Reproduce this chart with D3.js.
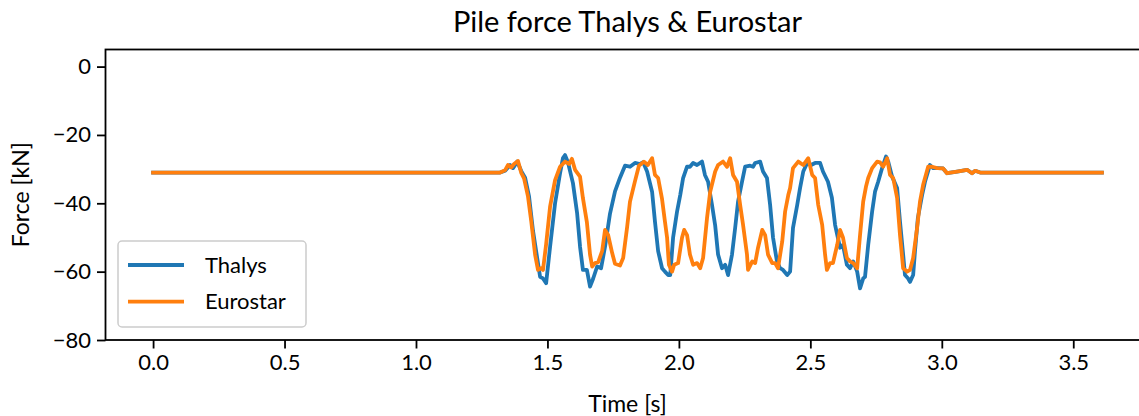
<!DOCTYPE html>
<html>
<head>
<meta charset="utf-8">
<script src="https://cdn.jsdelivr.net/npm/d3@7"></script>
<style>
  body { margin: 0; background: #fff; }
  text { font-family: Lato, "Open Sans", sans-serif; fill: #000; }
</style>
</head>
<body>
<div id="chart"></div>
<script>
// Data: time [s] and force [kN]
var thalysT = [0, 1.282, 1.320, 1.339, 1.358, 1.369, 1.385, 1.400, 1.415, 1.430, 1.445, 1.461, 1.472, 1.483, 1.495,
  1.510, 1.529, 1.548, 1.559, 1.567, 1.578, 1.597, 1.613, 1.624, 1.635, 1.650, 1.662, 1.674, 1.689, 1.704,
  1.719, 1.738, 1.757, 1.776, 1.795, 1.814, 1.833, 1.852, 1.864, 1.879, 1.898, 1.909, 1.921, 1.936, 1.947,
  1.959, 1.967, 1.978, 1.993, 2.005, 2.016, 2.031, 2.042, 2.054, 2.069, 2.088, 2.099, 2.111, 2.126, 2.138,
  2.149, 2.164, 2.176, 2.187, 2.202, 2.214, 2.225, 2.240, 2.252, 2.271, 2.282, 2.290, 2.309, 2.320, 2.335,
  2.347, 2.358, 2.373, 2.385, 2.396, 2.412, 2.423, 2.434, 2.450, 2.461, 2.473, 2.488, 2.503, 2.518, 2.537,
  2.548, 2.567, 2.582, 2.594, 2.613, 2.624, 2.639, 2.651, 2.663, 2.678, 2.689, 2.701, 2.708, 2.720, 2.735,
  2.746, 2.758, 2.773, 2.788, 2.796, 2.811, 2.830, 2.841, 2.853, 2.860, 2.872, 2.879, 2.891, 2.898, 2.909,
  2.925, 2.936, 2.955, 2.967, 2.986, 3.005, 3.020, 3.058, 3.096, 3.115, 3.127, 3.146, 3.172, 3.609];
var thalysF = [-31, -31, -31, -30.5, -28.8, -29.7, -27.8, -30.5, -32.5, -38, -48, -56, -61.5, -62, -63.4,
  -52.7, -40, -31.2, -26.8, -25.9, -28, -34.1, -43, -52.7, -59.5, -59.5, -64.4, -62, -58.5, -59,
  -52.7, -43, -36.5, -32.5, -29, -29.3, -28.2, -28.5, -28, -30.7, -36.6, -45.4, -54, -59, -60,
  -61, -61, -50, -42.4, -37.6, -32.6, -29.3, -29.3, -28.2, -28.8, -27.8, -31.7, -33.7, -40.5, -46.5,
  -55, -59, -58, -61, -55, -47.2, -39.5, -33.7, -29.3, -29, -29.3, -28.2, -27.8, -30.7, -32.6,
  -40.5, -50, -57, -59, -59.5, -61, -60, -47.2, -40.5, -35.5, -30.7, -28.2, -28.8, -28.2, -28.2,
  -30.7, -33.7, -38.4, -46.3, -53, -52.2, -58, -59, -57, -60, -64.9, -62, -61.5, -52.2, -42.4,
  -36.6, -33.7, -29.7, -26.3, -27.8, -32.2, -35.5, -45.4, -55, -61, -62, -63, -61, -54, -44.3,
  -37.6, -33.7, -28.8, -29.7, -29.7, -29.8, -31.2, -30.7, -30.2, -31.2, -30.5, -31, -31, -31];

var eurostarT = [0, 1.282, 1.320, 1.339, 1.350, 1.362, 1.373, 1.388, 1.400, 1.411, 1.426, 1.438, 1.453, 1.464, 1.476,
  1.483, 1.495, 1.510, 1.529, 1.548, 1.567, 1.582, 1.593, 1.605, 1.624, 1.635, 1.650, 1.662, 1.670, 1.681,
  1.693, 1.708, 1.719, 1.731, 1.746, 1.757, 1.776, 1.788, 1.803, 1.814, 1.833, 1.848, 1.867, 1.882, 1.898,
  1.909, 1.921, 1.936, 1.947, 1.955, 1.962, 1.974, 1.982, 1.997, 2.012, 2.020, 2.031, 2.042, 2.054, 2.069,
  2.081, 2.092, 2.107, 2.119, 2.138, 2.149, 2.168, 2.183, 2.195, 2.206, 2.221, 2.233, 2.244, 2.259, 2.263,
  2.279, 2.290, 2.301, 2.317, 2.328, 2.339, 2.355, 2.366, 2.377, 2.393, 2.404, 2.416, 2.423, 2.434, 2.454,
  2.473, 2.492, 2.507, 2.518, 2.530, 2.545, 2.556, 2.563, 2.575, 2.586, 2.602, 2.613, 2.624, 2.639, 2.651,
  2.663, 2.678, 2.689, 2.701, 2.712, 2.720, 2.735, 2.754, 2.765, 2.777, 2.792, 2.803, 2.815, 2.830, 2.841,
  2.853, 2.868, 2.879, 2.891, 2.906, 2.917, 2.929, 2.948, 2.963, 2.982, 3.005, 3.020, 3.058, 3.096, 3.115,
  3.127, 3.146, 3.609];
var eurostarF = [-31, -31, -31, -30.3, -28.8, -29.5, -28.5, -27.6, -31, -32.7, -38, -45, -55, -59.5, -59,
  -59.5, -52, -41, -33.2, -29.3, -27.8, -28.5, -27, -30.2, -32.2, -38.5, -45.5, -55, -58.5, -57.5,
  -57.2, -54, -47.8, -49.3, -54.5, -57.7, -58.2, -56, -47, -39.5, -33.5, -29, -27.8, -28.8, -26.8,
  -31.7, -32.6, -38.8, -45.4, -50, -58, -60, -58, -57.5, -50, -47.8, -49.3, -55, -58, -57.5,
  -59, -56, -44.3, -36.6, -30.7, -28.8, -27.8, -29.3, -26.8, -31.7, -33.7, -40.5, -46.3, -55, -59.5,
  -57, -57.5, -53, -47.8, -49.3, -55, -57.5, -57.5, -59, -51.2, -42.4, -37.6, -35.5, -29.7, -27.8,
  -28.8, -26.8, -31.7, -32.6, -40.5, -46.3, -55, -59.5, -57.5, -57.5, -52.2, -47.8, -50, -56, -57,
  -57.5, -59, -49.3, -39.5, -35, -32.6, -29.7, -27.8, -28, -29.3, -26.8, -31.7, -32.6, -38.4, -49.3,
  -59, -60, -59.5, -56, -47.2, -39.5, -34.6, -29.3, -29.3, -29.7, -29.8, -31.2, -30.7, -30.2, -31.2,
  -30.5, -31, -31];

var seriesNames = ['Thalys', 'Eurostar'];
var seriesColors = ['#1f77b4', '#ff7f0e'];
var xTicks = [0, 0.5, 1, 1.5, 2, 2.5, 3, 3.5];
var yTicks = [0, -20, -40, -60, -80];

function pairs(t, f) {
  return t.map(function(d, i) { return {t: d, f: f[i]}; });
}
var series = [pairs(thalysT, thalysF), pairs(eurostarT, eurostarF)];

//Basic setting
var w = 1139, h = 416;
var margin = {left: 105.5, right: 1149.5, top: 49.5, bottom: 340};

var svg = d3.select('#chart').append('svg')
  .attr('width', w)
  .attr('height', h);

var x = d3.scaleLinear().domain([-0.181, 3.79]).range([margin.left, margin.right]);
var y = d3.scaleLinear().domain([-80, 5]).range([margin.bottom, margin.top]);

//Lines
var line = d3.line()
  .x(function(d) { return x(d.t); })
  .y(function(d) { return y(d.f); });

svg.selectAll('path.series')
  .data(series)
  .enter().append('path')
  .attr('class', 'series')
  .attr('d', line)
  .style('fill', 'none')
  .style('stroke', function(d, i) { return seriesColors[i]; })
  .style('stroke-width', 3.8)
  .style('stroke-linejoin', 'round')
  .style('stroke-linecap', 'square');

//Axes
var xAxis = d3.axisBottom(x)
  .tickValues(xTicks)
  .tickSize(8.5)
  .tickSizeOuter(0)
  .tickPadding(6)
  .tickFormat(d3.format('.1f'));
var yAxis = d3.axisLeft(y)
  .tickValues(yTicks)
  .tickSize(8.5)
  .tickSizeOuter(0)
  .tickPadding(6)
  .tickFormat(function(d) { return d < 0 ? '\u2212' + Math.abs(d) : d; });

var gx = svg.append('g')
  .attr('transform', 'translate(0,' + margin.bottom + ')')
  .call(xAxis);
var gy = svg.append('g')
  .attr('transform', 'translate(' + margin.left + ',0)')
  .call(yAxis);
[gx, gy].forEach(function(g) {
  g.select('.domain').remove();
  g.selectAll('line').attr('stroke', '#000').attr('stroke-width', 1.8);
  g.selectAll('text').style('font-size', '22px').attr('fill', '#000');
});

//Frame
svg.append('rect')
  .attr('x', margin.left)
  .attr('y', margin.top)
  .attr('width', margin.right - margin.left)
  .attr('height', margin.bottom - margin.top)
  .style('fill', 'none')
  .style('stroke', '#000')
  .style('stroke-width', 1.8);

//Title and labels
svg.append('text')
  .attr('x', (margin.left + margin.right) / 2)
  .attr('y', 32)
  .attr('text-anchor', 'middle')
  .style('font-size', '29px')
  .text('Pile force Thalys & Eurostar');
svg.append('text')
  .attr('x', (margin.left + margin.right) / 2)
  .attr('y', 412)
  .attr('text-anchor', 'middle')
  .style('font-size', '23px')
  .text('Time [s]');
svg.append('text')
  .attr('transform', 'translate(29,' + ((margin.top + margin.bottom) / 2) + ') rotate(-90)')
  .attr('text-anchor', 'middle')
  .style('font-size', '23px')
  .text('Force [kN]');

//Legend
var legend = svg.append('g');
legend.append('rect')
  .attr('x', 118)
  .attr('y', 241)
  .attr('width', 188)
  .attr('height', 86)
  .attr('rx', 4)
  .style('fill', '#fff')
  .style('fill-opacity', 0.8)
  .style('stroke', '#ccc')
  .style('stroke-width', 1.5);
var item = legend.selectAll('g.item')
  .data(seriesNames)
  .enter().append('g')
  .attr('class', 'item')
  .attr('transform', function(d, i) { return 'translate(0,' + (265 + i * 36.7) + ')'; });
item.append('line')
  .attr('x1', 128).attr('x2', 184)
  .style('stroke', function(d, i) { return seriesColors[i]; })
  .style('stroke-width', 3.8);
item.append('text')
  .attr('x', 205)
  .attr('dy', '0.35em')
  .style('font-size', '22px')
  .text(function(d) { return d; });
</script>
</body>
</html>
